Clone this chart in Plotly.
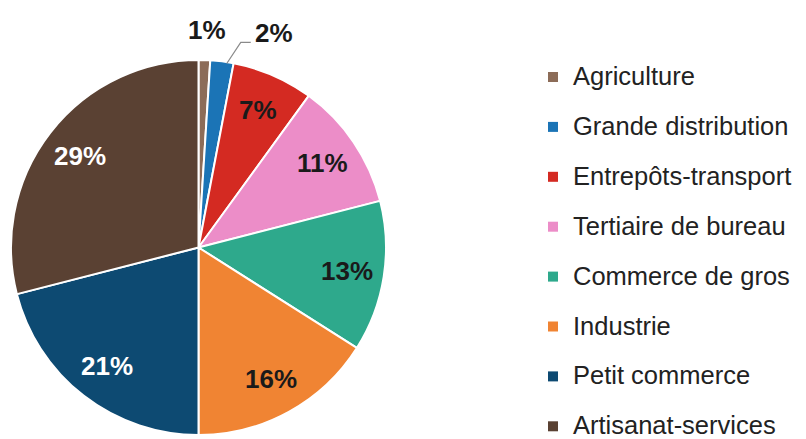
import math
import plotly.graph_objects as go

# Share of each sector (percent), clockwise from 12 o'clock
sectors = ["Agriculture", "Grande distribution", "Entrepôts-transport",
           "Tertiaire de bureau", "Commerce de gros", "Industrie",
           "Petit commerce", "Artisanat-services"]
shares = [1, 2, 7, 11, 13, 16, 21, 29]
colors = ["#8C6C58", "#1B74B6", "#D42A22", "#EC8DC8",
          "#2EA98C", "#F08433", "#0D4A72", "#5A4133"]
label_colors = ["#1a1a1a"] * 6 + ["white", "white"]
outside = [True, True, False, False, False, False, False, False]

W, H = 806, 439
CX, CY, R = 198.5, 247.5, 187.5   # pie centre and radius in pixels
FONT = "Liberation Sans, Arial, sans-serif"


def px(x, y):
    """Pixel position -> paper coordinates."""
    return x / W, 1 - y / H


fig = go.Figure(go.Pie(
    labels=sectors,
    values=shares,
    sort=False,
    direction="clockwise",
    rotation=0,
    marker=dict(colors=colors, line=dict(color="white", width=2)),
    textinfo="none",
    hoverinfo="label+percent",
    showlegend=False,
    domain=dict(x=[(CX - R) / W, (CX + R) / W],
                y=[1 - (CY + R) / H, 1 - (CY - R) / H]),
))

annotations = []
shapes = []
total = sum(shares)
cum = 0
for i, (v, col) in enumerate(zip(shares, label_colors)):
    mid = (cum + v / 2) / total * 2 * math.pi
    cum += v
    txt = f"<b>{v}%</b>"
    if not outside[i]:
        rr = 0.8 * R
        x, y = CX + rr * math.sin(mid), CY - rr * math.cos(mid)
        annotations.append(dict(x=px(x, y)[0], y=px(x, y)[1], xref="paper", yref="paper",
                                text=txt, showarrow=False, xanchor="center", yanchor="middle",
                                font=dict(family=FONT, size=26, color=col)))
    elif i == 0:
        rr = 1.16 * R
        x, y = CX + rr * math.sin(mid) + 2, CY - rr * math.cos(mid)
        annotations.append(dict(x=px(x, y)[0], y=px(x, y)[1], xref="paper", yref="paper",
                                text=txt, showarrow=False, xanchor="center", yanchor="middle",
                                font=dict(family=FONT, size=26, color=col)))
    else:
        # small slice: label pushed to the right with a leader line
        sx, sy = CX + (R - 2) * math.sin(mid) + 5, CY - (R - 2) * math.cos(mid)
        bx, by = sx + 14, sy - 21
        ex, ey = bx + 10, by
        p = [px(sx, sy), px(bx, by), px(ex, ey)]
        shapes.append(dict(type="path", xref="paper", yref="paper",
                           path=f"M {p[0][0]} {p[0][1]} L {p[1][0]} {p[1][1]} L {p[2][0]} {p[2][1]}",
                           line=dict(color="#8a8a8a", width=1.2)))
        tx, ty = ex + 23, ey - 9
        annotations.append(dict(x=px(tx, ty)[0], y=px(tx, ty)[1], xref="paper", yref="paper",
                                text=txt, showarrow=False, xanchor="center", yanchor="middle",
                                font=dict(family=FONT, size=26, color=col)))

# Legend: coloured squares with sector names
for i, (name, c) in enumerate(zip(sectors, colors)):
    yc = 75 + 49.9 * i
    x0, y0 = px(548, yc - 3)
    x1, y1 = px(558, yc + 7)
    shapes.append(dict(type="rect", xref="paper", yref="paper",
                       x0=x0, x1=x1, y0=y1, y1=y0, fillcolor=c, line=dict(width=0)))
    tx, ty = px(571, yc + 1)
    annotations.append(dict(x=tx, y=ty, xref="paper", yref="paper", text=name,
                            showarrow=False, xanchor="left", yanchor="middle",
                            font=dict(family=FONT, size=25.5, color="#222222")))

fig.update_layout(
    width=W, height=H,
    margin=dict(l=0, r=0, t=0, b=0),
    paper_bgcolor="white",
    plot_bgcolor="white",
    annotations=annotations,
    shapes=shapes,
)

fig.write_html("out.html")
